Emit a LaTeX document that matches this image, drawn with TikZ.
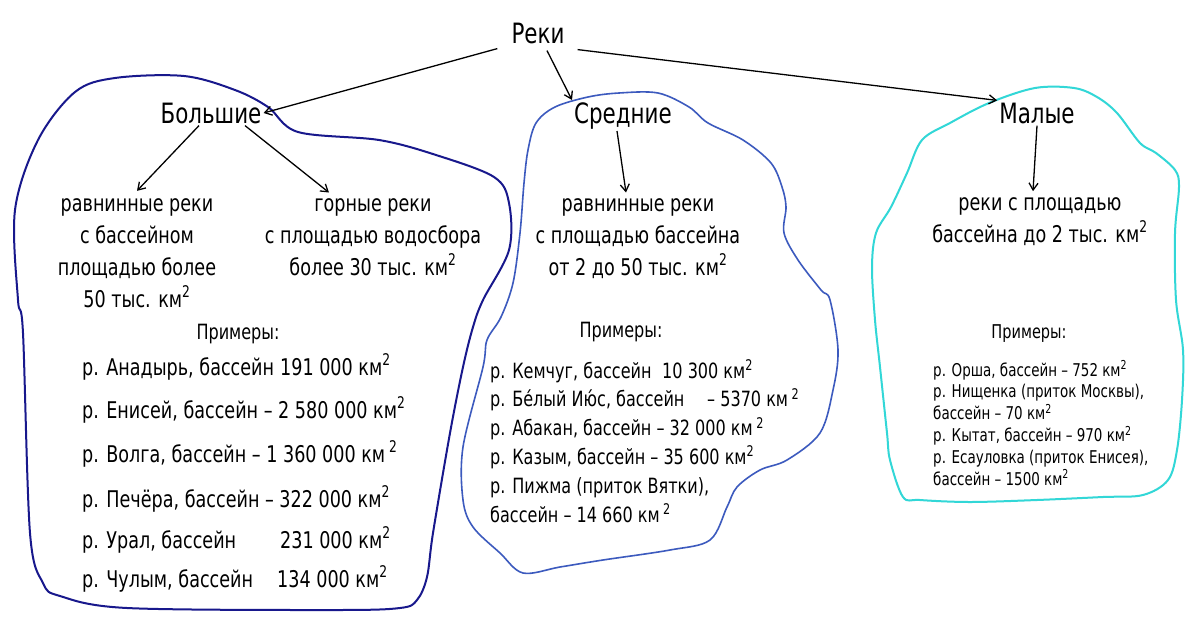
\documentclass[tikz,border=0pt]{standalone}
\usepackage{fontspec}
\setmainfont{DejaVu Sans Condensed}[FakeStretch=0.85]
\usetikzlibrary{arrows.meta}
\definecolor{bigblue}{RGB}{24,24,140}
\definecolor{midblue}{RGB}{60,90,190}
\definecolor{smallcyan}{RGB}{50,215,215}
\newcommand{\kmsq}{км\textsuperscript{2}}
\begin{document}
\begin{tikzpicture}[x=1pt,y=-1pt,
  head/.style={font=\fontsize{28}{34}\selectfont, inner sep=2pt, anchor=base},
  desc/.style={font=\fontsize{23}{31.7}\selectfont, align=center, inner sep=2pt, anchor=base},
  exhead/.style={font=\fontsize{21}{25}\selectfont, inner sep=1pt, anchor=base},
  exbig/.style={font=\fontsize{23}{28}\selectfont, anchor=base west, inner sep=0pt},
  exmid/.style={font=\fontsize{21}{28.8}\selectfont, anchor=base west, inner sep=0pt, align=left},
  exsmall/.style={font=\fontsize{17.6}{21.8}\selectfont, anchor=base west, inner sep=0pt, align=left},
  arr/.style={-{Straight Barb[length=7pt,width=9pt]}, line width=1.3pt},
  blob/.style={line width=2pt, line join=round}]
\useasboundingbox (0,0) rectangle (1190,616);
\fill[white] (0,0) rectangle (1190,616);

% blobs
\draw[blob, bigblue] plot[smooth cycle, tension=0.55] coordinates {
 (15,210) (18,300) (23,333) (30,533) (43,583) (60,596) (127,608) (333,610) (400,608) (417,600)
 (427,577) (433,533) (450,433) (463,367) (473,327) (483,300) (509,250) (509,203) (494,177)
 (436,155) (379,140) (298,132) (268,107) (235,90) (184,76) (115,78) (75,92) (38,140)};
\draw[blob, midblue, line width=1.6pt] plot[smooth cycle, tension=0.55] coordinates {
 (501,317) (487,340) (483,367) (463,447) (463,500) (473,527) (500,553) (523,573) (560,567)
 (603,560) (670,550) (710,540) (727,507) (737,487) (760,470) (787,460) (820,433) (833,390)
 (838,350) (830,300) (821,290) (798,260) (784,233) (786,207) (782,187) (771,163) (743,140)
 (708,123) (689,107) (658,93) (619,93) (588,97) (555,107) (536,123) (528,150) (524,183)
 (520,233) (513,283)};
\draw[blob, smallcyan] plot[smooth cycle, tension=0.55] coordinates {
 (872,267) (876,233) (891,207) (907,173) (922,140) (950,123) (989,103) (1035,88) (1074,88)
 (1097,97) (1117,113) (1140,143) (1156,153) (1175,170) (1179,187) (1175,233) (1176,300)
 (1183,350) (1182,400) (1177,450) (1168,480) (1143,495) (1103,497) (1037,500) (970,502)
 (920,500) (903,497) (890,460) (887,433) (880,367) (875,320)};

% headings
\node[head] (reki) at (538,43) {Реки};
\node[head] (bol) at (211,123) {Большие};
\node[head] (sred) at (623,123) {Средние};
\node[head] (mal) at (1037,123) {Малые};

% descriptions (base = last line)
\node[desc] (b1) at (137,307) {равнинные реки\\с бассейном\\площадью более\\50 тыс. \kmsq};
\node[desc] (b2) at (373,275) {горные реки\\с площадью водосбора\\более 30 тыс. \kmsq};
\node[desc] (s1) at (638,275) {равнинные реки\\с площадью бассейна\\от 2 до 50 тыс. \kmsq};
\node[desc] (m1) at (1040,242) {реки с площадью\\бассейна до 2 тыс. \kmsq};

% examples headers
\node[exhead] (pb) at (238,339) {Примеры:};
\node[exhead] (ps) at (621,337) {Примеры:};
\node[exhead, font=\fontsize{19}{23}\selectfont] (pm) at (1029,338) {Примеры:};

% big examples
\node[exbig] (e1) at (82,375) {\makebox[198pt][l]{р. Анадырь, бассейн}191 000 \kmsq};
\node[exbig] (e2) at (82,418) {р. Енисей, бассейн – 2 580 000 \kmsq};
\node[exbig] (e3) at (82,462) {р. Волга, бассейн – 1 360 000 км\,\textsuperscript{2}};
\node[exbig] (e4) at (82,507) {р. Печёра, бассейн – 322 000 \kmsq};
\node[exbig] (e5) at (82,548) {\makebox[198pt][l]{р. Урал, бассейн}231 000 \kmsq};
\node[exbig] (e6) at (82,587) {\makebox[195pt][l]{р. Чулым, бассейн}134 000 \kmsq};

% middle examples (base = last line)
\node[exmid] (em) at (490,522) {\makebox[172pt][l]{р. Кемчуг, бассейн}10 300 \kmsq\\
\makebox[217pt][l]{р. Бе́лый Ию́с, бассейн}– 5370 км\,\textsuperscript{2}\\
р. Абакан, бассейн – 32 000 км\,\textsuperscript{2}\\
р. Казым, бассейн – 35 600 \kmsq\\
р. Пижма (приток Вятки),\\
бассейн – 14 660 км\,\textsuperscript{2}};

% small examples (base = last line)
\node[exsmall] (es) at (933,485) {р. Орша, бассейн – 752 \kmsq\\
р. Нищенка (приток Москвы),\\
бассейн – 70 \kmsq\\
р. Кытат, бассейн – 970 \kmsq\\
р. Есауловка (приток Енисея),\\
бассейн – 1500 \kmsq};

% arrows
\draw[arr] (reki.south west) ++(-12,3) coordinate (r1) -- (bol.east);
\draw[arr] (reki.south) ++(9,5) coordinate (r2) -- (sred.north west);
\draw[arr] (reki.south east) ++(11,4) coordinate (r3) -- (mal.north west);
\draw[arr] ([xshift=-12pt]bol.south) -- ([yshift=6pt]b1.north);
\draw[arr] ([xshift=34pt]bol.south) -- ([xshift=-44pt,yshift=4pt]b2.north);
\draw[arr] ([xshift=-6pt]sred.south) -- ([xshift=-12pt,yshift=4pt]s1.north);
\draw[arr] (mal.south) -- ([xshift=-7pt,yshift=4pt]m1.north);
\end{tikzpicture}
\end{document}
